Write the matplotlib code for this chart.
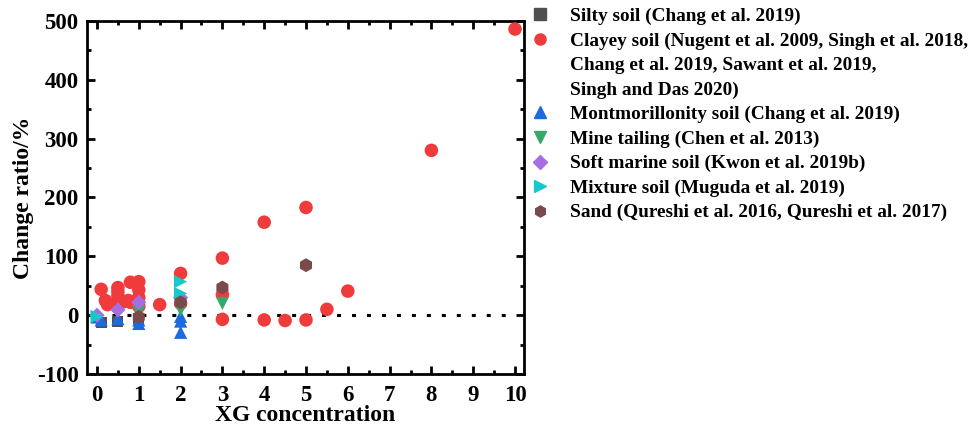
import matplotlib
matplotlib.use("Agg")
import matplotlib.pyplot as plt
from matplotlib.lines import Line2D
from matplotlib.ticker import MultipleLocator

plt.rcParams['font.family'] = ['Liberation Serif', 'DejaVu Serif']
plt.rcParams['font.weight'] = 'bold'
plt.rcParams['axes.unicode_minus'] = False

# change ratio (%) vs XG concentration, grouped by soil type
silty_x = [0.1, 0.5, 1.0]
silty_y = [-12, -10, -6]

clayey_x = [0.1, 0.2, 0.25, 0.5, 0.5, 0.5, 0.5, 0.5, 0.6, 0.75, 0.8, 0.8,
            1.0, 1.0, 1.0, 1.0, 1.5, 2.0, 2.0, 3.0, 3.0, 3.0, 4.0, 4.0,
            4.5, 5.0, 5.0, 5.5, 6.0, 8.0, 10.0]
clayey_y = [44, 25, 18, 47, 40, 33, 27, 20, 22, 25, 56, 22,
            57, 43, 30, 15, 18, 71, 20, 97, 35, -7, 158, -8,
            -9, 183, -8, 10, 41, 280, 486]

mont_x = [0.0, 0.1, 0.5, 1.0, 1.0, 2.0, 2.0, 2.0]
mont_y = [-3, -8, -6, -8, -14, -2, -10, -29]

mine_x = [1.0, 2.0, 3.0]
mine_y = [6, 9, 20]

marine_x = [0.0, 0.5, 1.0, 2.0]
marine_y = [0, 9, 22, 30]

mixture_x = [0.0, 2.0, 2.0]
mixture_y = [-2, 57, 37]

sand_x = [1.0, 2.0, 3.0, 5.0]
sand_y = [-3, 22, 47, 85]

series = [
    (silty_x, silty_y, 's', '#4f4f4f', 'Silty soil (Chang et al. 2019)'),
    (clayey_x, clayey_y, 'o', '#ef3b3b',
     'Clayey soil (Nugent et al. 2009, Singh et al. 2018,'),
    (mont_x, mont_y, '^', '#1c6bde', 'Montmorillonity soil (Chang et al. 2019)'),
    (mine_x, mine_y, 'v', '#38a868', 'Mine tailing (Chen et al. 2013)'),
    (marine_x, marine_y, 'D', '#a86de0', 'Soft marine soil (Kwon et al. 2019b)'),
    (mixture_x, mixture_y, '>', '#17c9c9', 'Mixture soil (Muguda et al. 2019)'),
    (sand_x, sand_y, 'h', '#7a4949', 'Sand (Qureshi et al. 2016, Qureshi et al. 2017)'),
]
clayey_extra = ['Chang et al. 2019, Sawant et al. 2019,', 'Singh and Das 2020)']

fig = plt.figure(figsize=(9.76, 4.34), dpi=100)
ax = fig.add_axes([0.0891, 0.138, 0.448, 0.814])

sizes = {'s': 65, 'o': 95, '^': 90, 'v': 90, 'D': 60, '>': 90, 'h': 100}
for x, y, m, c, lab in series:
    ax.scatter(x, y, marker=m, s=sizes[m], color=c, edgecolors='none', zorder=3)

ax.plot([0, 10], [0, 0], color='black', lw=2.2,
        linestyle=(0, (1.3, 3.6)), zorder=2)

ax.set_xlim(-0.24, 10.22)
ax.set_ylim(-100, 500)
ax.xaxis.set_major_locator(MultipleLocator(1))
ax.xaxis.set_minor_locator(MultipleLocator(0.5))
ax.yaxis.set_major_locator(MultipleLocator(100))
ax.yaxis.set_minor_locator(MultipleLocator(50))
ax.tick_params(which='both', direction='in', top=True, right=True, width=2,
               labelsize=16.5, pad=6)
ax.tick_params(axis='x', pad=8)
ax.tick_params(which='major', length=6)
ax.tick_params(which='minor', length=3)
for s in ax.spines.values():
    s.set_linewidth(2)
for t in ax.get_xticklabels() + ax.get_yticklabels():
    t.set_fontweight('bold')

ax.set_xlabel('XG concentration', fontsize=17, fontweight='bold', labelpad=-1)
ax.set_ylabel('Change ratio/%', fontsize=17, fontweight='bold', labelpad=2)

handles, labels = [], []
for x, y, m, c, lab in series:
    handles.append(Line2D([], [], marker=m, color=c, linestyle='none',
                          markersize=8 if m != 'D' else 7))
    labels.append(lab)
    if m == 'o':
        for extra in clayey_extra:
            handles.append(Line2D([], [], linestyle='none'))
            labels.append(extra)

leg = fig.legend(handles, labels, loc='upper left', bbox_to_anchor=(0.531, 1.009),
                 frameon=False, prop={'size': 13.9, 'weight': 'bold'},
                 handlelength=1.1, handletextpad=1.0, labelspacing=0.36,
                 borderaxespad=0.2)

fig.savefig('out.png', dpi=100)
